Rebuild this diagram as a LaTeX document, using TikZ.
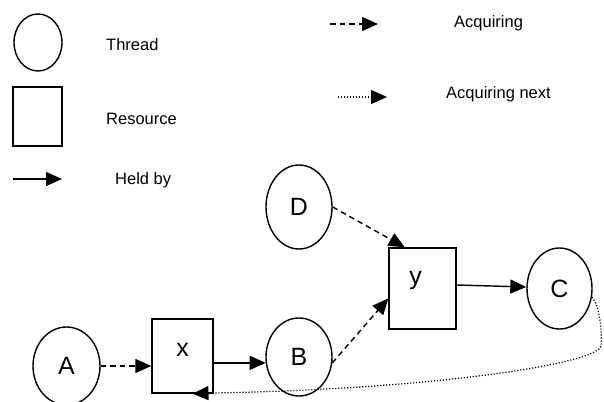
\documentclass[tikz,border=0pt]{standalone}
\usepackage{fontspec}
\setmainfont{Liberation Sans}
\usetikzlibrary{arrows.meta,calc,shapes.geometric}

\tikzset{
  thread/.style={draw, ellipse, line width=1.4pt, inner sep=0pt,
                 font=\fontsize{25}{25}\selectfont},
  resbox/.style={draw, rectangle, line width=1.4pt, inner sep=0pt},
  boxlbl/.style={font=\fontsize{25}{25}\selectfont, inner sep=0pt},
  legtext/.style={anchor=base west, inner sep=0pt,
                  font=\fontsize{16.5}{18}\selectfont},
  held/.style={line width=1.4pt, -{Triangle[length=16pt,width=14pt]}},
  acq/.style={held, dash pattern=on 5.5pt off 4pt},
  acqnext/.style={line width=1.2pt, dash pattern=on 1.2pt off 1.8pt,
                  -{Triangle[length=16pt,width=14pt]}},
}

\begin{document}
\begin{tikzpicture}[x=1pt,y=1pt]
  \useasboundingbox (0,0) rectangle (604,401);

  % legend
  \node[thread, minimum width=48pt, minimum height=57pt] (legthread) at (38,358.5) {};
  \node[resbox, minimum width=49pt, minimum height=59pt] (legres) at (37.5,284.5) {};
  \coordinate (h1) at (13,222);
  \coordinate (h2) at (62,222);
  \draw[held] (h1) -- (h2);
  \node[legtext] (tthread) at (106,350) {Thread};
  \node[legtext] (tres) at (106,276) {Resource};
  \node[legtext] (theld) at (115,216) {Held by};

  \coordinate (a1) at (330,377);
  \coordinate (a2) at (378,377);
  \draw[acq] (a1) -- (a2);
  \node[legtext] (tacq) at (454,373) {Acquiring};
  \coordinate (n1) at (338,304);
  \coordinate (n2) at (387,304);
  \draw[acqnext] (n1) -- (n2);
  \node[legtext] (tnext) at (446,302) {Acquiring next};

  % threads and resources
  \node[thread, minimum width=67pt, minimum height=78pt] (A) at (66.5,35) {A};
  \node[resbox, minimum width=61pt, minimum height=74pt,
        label={[boxlbl,yshift=6pt]center:x}] (x) at (182.5,45) {};
  \node[thread, minimum width=66pt, minimum height=78pt] (B) at (299,44) {B};
  \node[thread, minimum width=66pt, minimum height=84pt] (D) at (299,194) {D};
  \node[resbox, minimum width=67pt, minimum height=81pt,
        label={[boxlbl,yshift=8pt,xshift=-7pt]center:y}] (y) at (422.5,112.5) {};
  \node[thread, minimum width=65pt, minimum height=81pt] (C) at (559.5,112.5) {C};

  % edges
  \draw[acq] (A.east) -- (x.west |- A.east);
  \draw[held] (x.east |- B.190) -- (B.190);
  \draw[acq] (B.-10) -- ($(y.south west)!0.38!(y.north west)$);
  \draw[acq] (D.east) -- ($(y.north west)!0.24!(y.north east)$);
  \draw[held] ([yshift=3.5pt]y.east) -- ([yshift=1.5pt]C.west);
  \coordinate (xtip) at ($(x.south west)!0.66!(x.south east)$);
  \draw[acqnext] (C.-15) .. controls (600,95) and (602,70) .. (601,55)
        .. controls (598,38) and (440,12) .. (213,8) -- (xtip);
\end{tikzpicture}
\end{document}
